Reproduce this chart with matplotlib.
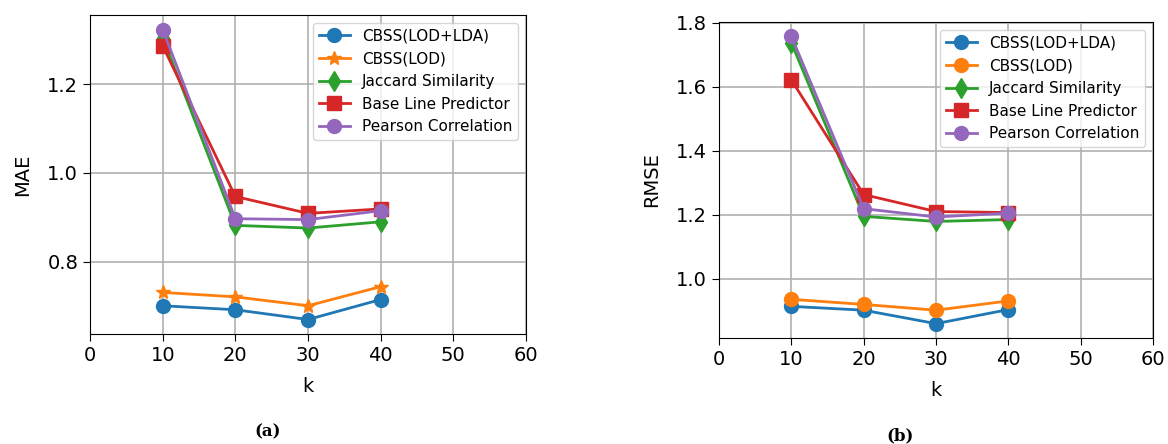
import matplotlib
matplotlib.use("Agg")
import matplotlib.pyplot as plt

k = [10, 20, 30, 40]

series_names = [
    "CBSS(LOD+LDA)",
    "CBSS(LOD)",
    "Jaccard Similarity",
    "Base Line Predictor",
    "Pearson Correlation",
]

# MAE values
mae_lod_lda = [0.701, 0.692, 0.670, 0.715]
mae_lod = [0.731, 0.721, 0.701, 0.744]
mae_jaccard = [1.305, 0.882, 0.876, 0.890]
mae_baseline = [1.286, 0.947, 0.909, 0.919]
mae_pearson = [1.323, 0.897, 0.895, 0.915]

# RMSE values
rmse_lod_lda = [0.914, 0.902, 0.860, 0.904]
rmse_lod = [0.936, 0.920, 0.902, 0.931]
rmse_jaccard = [1.737, 1.195, 1.179, 1.185]
rmse_baseline = [1.621, 1.263, 1.210, 1.207]
rmse_pearson = [1.757, 1.219, 1.193, 1.205]

colors = ["#1f77b4", "#ff7f0e", "#2ca02c", "#d62728", "#9467bd"]


def draw_panel(ax, values, markers, ylabel):
    for name, vals, m, c in zip(series_names, values, markers, colors):
        ax.plot(k, vals, marker=m, color=c, label=name, linewidth=2,
                markersize=10)
    ax.set_xlim(0, 60)
    ax.set_xticks([0, 10, 20, 30, 40, 50, 60])
    ax.grid(True, color="#b0b0b0", linewidth=1.2)
    ax.set_xlabel("k", fontsize=14, labelpad=9)
    ax.set_ylabel(ylabel, fontsize=14, labelpad=11)
    ax.tick_params(labelsize=14, length=5)
    ax.legend(loc="upper right", fontsize=11)


fig = plt.figure(figsize=(11.68, 4.44), dpi=100)
ax1 = fig.add_axes([0.0771, 0.2477, 0.3732, 0.7185])
ax2 = fig.add_axes([0.6156, 0.2387, 0.3716, 0.7118])

draw_panel(ax1, [mae_lod_lda, mae_lod, mae_jaccard, mae_baseline, mae_pearson],
           ["o", "*", "d", "s", "o"], "MAE")
ax1.set_yticks([0.8, 1.0, 1.2])

draw_panel(ax2, [rmse_lod_lda, rmse_lod, rmse_jaccard, rmse_baseline, rmse_pearson],
           ["o", "o", "d", "s", "o"], "RMSE")
ax2.set_yticks([1.0, 1.2, 1.4, 1.6, 1.8])

fig.text(268 / 1168, 1 - 432 / 444, "(a)", family="serif", weight="bold",
         fontsize=12, ha="center", va="center")
fig.text(900 / 1168, 1 - 436 / 444, "(b)", family="serif", weight="bold",
         fontsize=12, ha="center", va="center")

fig.savefig("out.png", dpi=100)
